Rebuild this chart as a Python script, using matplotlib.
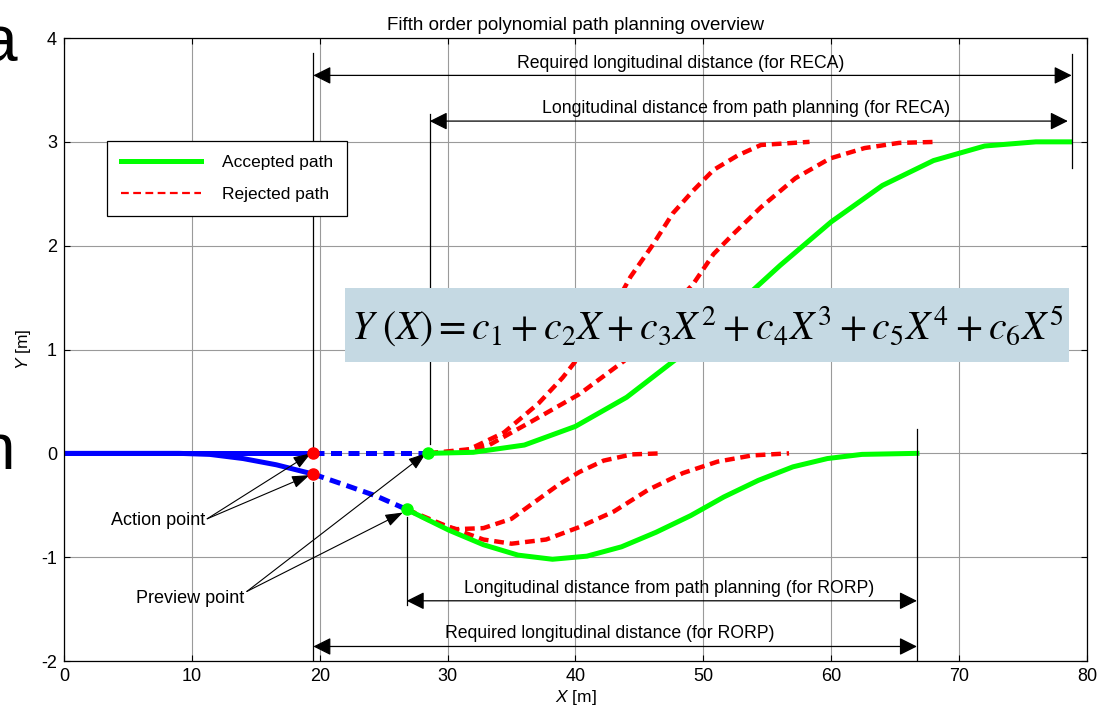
import matplotlib
matplotlib.use('Agg')
import matplotlib.pyplot as plt
from matplotlib.lines import Line2D
from matplotlib.patches import Rectangle

# upper lane change (RECA)
up_acc_x = [28.5, 32, 36, 40, 44, 48, 52, 56, 60, 64, 68, 72, 76, 78.7]
up_acc_y = [0, 0.01, 0.08, 0.26, 0.54, 0.92, 1.36, 1.81, 2.23, 2.58, 2.82, 2.96, 3.0, 3.0]
up_rej1_x = [28.5, 31.7, 34.4, 37.1, 39.0, 41.1, 42.7, 44.3, 46.0, 47.6, 49.2, 50.8, 52.7, 54.5, 58.3]
up_rej1_y = [0, 0.04, 0.2, 0.48, 0.73, 1.06, 1.34, 1.70, 2.0, 2.31, 2.53, 2.73, 2.87, 2.97, 3.0]
up_rej2_x = [28.5, 31, 33.1, 36.6, 40.3, 43.8, 46.5, 49.2, 50.8, 52.4, 54.5, 57.2, 59.9, 62.6, 65.3, 68.3]
up_rej2_y = [0, 0.02, 0.07, 0.31, 0.57, 0.89, 1.28, 1.63, 1.92, 2.12, 2.37, 2.65, 2.84, 2.94, 2.99, 3.0]

# lower lane change (RORP)
lo_acc_x = [26.8, 30.1, 32.8, 35.5, 38.2, 40.9, 43.6, 46.3, 49.0, 51.6, 54.3, 57.0, 59.7, 62.4, 66.7]
lo_acc_y = [-0.54, -0.74, -0.88, -0.98, -1.02, -0.99, -0.90, -0.76, -0.60, -0.42, -0.26, -0.13, -0.05, -0.01, 0]
lo_rej1_x = [26.8, 28.8, 30.7, 32.8, 35.0, 36.9, 38.7, 40.3, 42.2, 44.4, 46.7]
lo_rej1_y = [-0.54, -0.66, -0.73, -0.72, -0.63, -0.46, -0.30, -0.18, -0.07, -0.01, 0]
lo_rej2_x = [26.8, 30.1, 32.8, 35.0, 37.7, 40.3, 43.0, 45.7, 48.4, 51.1, 53.8, 56.7]
lo_rej2_y = [-0.54, -0.71, -0.83, -0.87, -0.83, -0.71, -0.56, -0.35, -0.19, -0.08, -0.02, 0]

# ego vehicle paths before the manoeuvre
blue_up_x = [0, 19.5]
blue_up_y = [0, 0]
blue_up_dash_x = [19.5, 28.5]
blue_up_dash_y = [0, 0]
blue_lo_x = [0, 9, 11.4, 14, 16.6, 19.5]
blue_lo_y = [0, 0, -0.01, -0.05, -0.11, -0.2]
blue_lo_dash_x = [19.5, 22.1, 24.4, 26.8]
blue_lo_dash_y = [-0.2, -0.31, -0.41, -0.54]

action_x = [19.5, 19.5]
action_y = [0, -0.2]
preview_x = [28.5, 26.8]
preview_y = [0, -0.54]

plt.rcParams['font.family'] = ['Liberation Sans', 'DejaVu Sans']
plt.rcParams['mathtext.fontset'] = 'custom'
plt.rcParams['mathtext.it'] = 'Liberation Sans:italic'
plt.rcParams['mathtext.rm'] = 'Liberation Sans'
plt.rcParams['axes.unicode_minus'] = False

fig = plt.figure(figsize=(11.11, 7.12), dpi=100)
ax = fig.add_axes([0.0576, 0.0716, 0.9208, 0.875])

GREEN = '#00ff00'
RED = '#ff0000'
BLUE = '#0000ff'
dash = (2.2, 1.3)

ax.plot(blue_up_x, blue_up_y, color=BLUE, lw=3.6)
ax.plot(blue_lo_x, blue_lo_y, color=BLUE, lw=3.6)
ax.plot(blue_up_dash_x, blue_up_dash_y, color=BLUE, lw=3.6, dashes=dash)
ax.plot(blue_lo_dash_x, blue_lo_dash_y, color=BLUE, lw=3.6, dashes=dash)

for xs, ys in [(up_rej1_x, up_rej1_y), (up_rej2_x, up_rej2_y),
               (lo_rej1_x, lo_rej1_y), (lo_rej2_x, lo_rej2_y)]:
    ax.plot(xs, ys, color=RED, lw=3.2, dashes=dash)
ax.plot(up_acc_x, up_acc_y, color=GREEN, lw=3.6)
ax.plot(lo_acc_x, lo_acc_y, color=GREEN, lw=3.6)

ax.plot(action_x, action_y, 'o', color=RED, ms=8, zorder=5)
ax.plot(preview_x, preview_y, 'o', color=GREEN, ms=8, zorder=5)

# equation box
ax.add_patch(Rectangle((22.0, 0.877), 56.6, 0.713, fc='#c5d9e3', ec='none', zorder=6))
ax.text(50.3, 1.22, r'$Y\ (X) = c_1 + c_2X + c_3X^2 + c_4X^3 + c_5X^4 + c_6X^5$',
        math_fontfamily='stix', fontsize=28.5, ha='center', va='center', zorder=7)

# dimension lines
for x, y0, y1 in [(19.5, 3.86, 0.03), (28.6, 3.27, 0.09), (78.8, 3.85, 2.75),
                  (19.5, -0.28, -2.0), (26.8, -0.61, -1.46), (66.7, 0.23, -2.0)]:
    ax.plot([x, x], [y0, y1], color='black', lw=0.9)


def dim_arrow(x0, x1, y, label, tx, ty):
    ax.annotate('', xy=(x1, y), xytext=(x0, y),
                arrowprops=dict(arrowstyle='<|-|>,head_length=0.9,head_width=0.45',
                                color='black', lw=0.9, shrinkA=0, shrinkB=0,
                                mutation_scale=12))
    ax.text(tx, ty, label, fontsize=12.7, ha='center', va='bottom')


dim_arrow(19.5, 78.8, 3.64, 'Required longitudinal distance (for RECA)', 48.2, 3.67)
dim_arrow(28.6, 78.5, 3.2, 'Longitudinal distance from path planning (for RECA)', 53.3, 3.24)
dim_arrow(26.8, 66.7, -1.42, 'Longitudinal distance from path planning (for RORP)', 47.3, -1.38)
dim_arrow(19.5, 66.7, -1.86, 'Required longitudinal distance (for RORP)', 42.7, -1.82)

# point labels
ptr = dict(arrowstyle='-|>,head_length=0.9,head_width=0.32', color='black', lw=0.8,
           shrinkA=0, shrinkB=0, mutation_scale=12)
ax.text(7.4, -0.65, 'Action point', fontsize=13, ha='center', va='center')
for tx, ty in [(19.3, 0.0), (19.2, -0.21)]:
    ax.annotate('', xy=(tx, ty), xytext=(11.2, -0.63), arrowprops=ptr)
ax.text(9.9, -1.40, 'Preview point', fontsize=13, ha='center', va='center')
for tx, ty in [(28.3, 0.0), (26.5, -0.57)]:
    ax.annotate('', xy=(tx, ty), xytext=(14.3, -1.33), arrowprops=ptr)

ax.set_xlim(0, 80)
ax.set_ylim(-2, 4)
ax.set_xticks(range(0, 81, 10))
ax.set_yticks(range(-2, 5))
ax.grid(True, color='#9a9a9a', lw=0.8)
ax.tick_params(direction='in', top=True, right=True, length=4, labelsize=13, pad=5)
for s in ax.spines.values():
    s.set_linewidth(0.9)
ax.set_title('Fifth order polynomial path planning overview', fontsize=13.5, pad=6)
ax.set_xlabel(r'$X$ [m]', fontsize=12.5, labelpad=2)
ax.set_ylabel(r'$Y$ [m]', fontsize=12.5, labelpad=6)

handles = [Line2D([], [], color=GREEN, lw=3.6),
           Line2D([], [], color=RED, lw=1.6, ls=(0, (3.5, 2)))]
leg = ax.legend(handles, ['Accepted path', 'Rejected path'], loc='upper left',
                bbox_to_anchor=(0.042, 0.835), borderaxespad=0, fontsize=12.5,
                fancybox=False, edgecolor='black', framealpha=1, handlelength=4.6,
                borderpad=0.8, labelspacing=1.0, handletextpad=1.2)
leg.get_frame().set_linewidth(0.9)

# fragments of neighbouring text cut by the crop
fig.text(0.0155, 0.937, 'a', fontsize=46, ha='right', va='center')
fig.text(0.0135, 0.365, 'n', fontsize=46, ha='right', va='center')

fig.savefig('out.png', dpi=100)
